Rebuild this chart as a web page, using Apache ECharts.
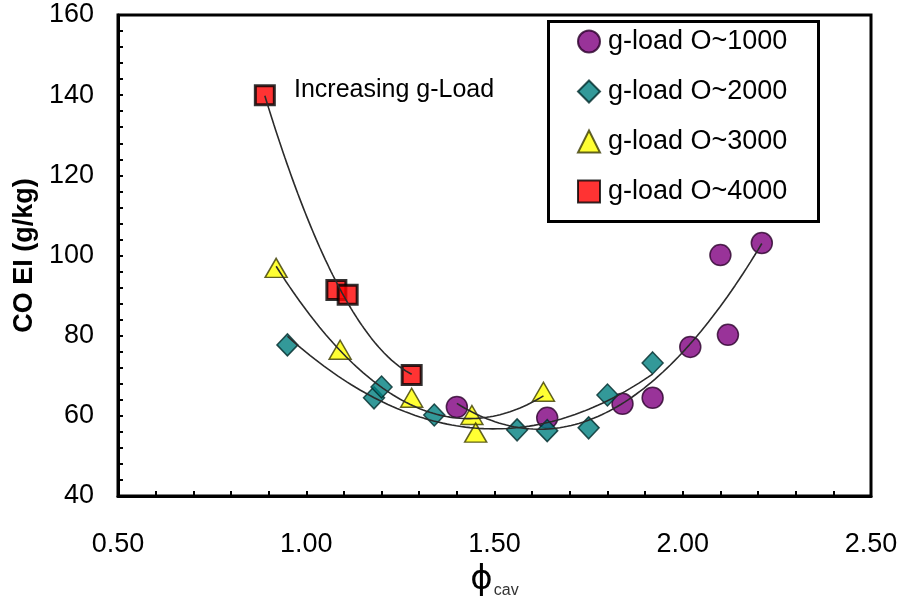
<!DOCTYPE html>
<html>
<head>
<meta charset="utf-8">
<script src="https://cdn.jsdelivr.net/npm/echarts@6/dist/echarts.min.js"></script>
<style>
  html, body { margin: 0; padding: 0; background: #ffffff; }
  #chart { width: 903px; height: 596px; }
</style>
</head>
<body>
<div id="chart"></div>
<script>
// Series labels
const seriesNames = ['g-load O~1000', 'g-load O~2000', 'g-load O~3000', 'g-load O~4000'];

// Equivalence ratio (phi_cav) and CO emission index (g/kg) per g-load group
const phi1000 = [1.40, 1.64, 1.84, 1.92, 2.02, 2.12, 2.10, 2.21];
const coEI1000 = [62.2, 59.5, 63.0, 64.5, 77.2, 80.2, 100.1, 103.1];

const phi2000 = [0.95, 1.18, 1.20, 1.34, 1.56, 1.64, 1.75, 1.80, 1.92];
const coEI2000 = [77.7, 64.5, 67.2, 60.2, 56.5, 56.3, 57.0, 65.2, 73.2];

const phi3000 = [0.92, 1.09, 1.28, 1.44, 1.45, 1.63];
const coEI3000 = [96.9, 76.5, 64.5, 60.2, 55.8, 66.0];

const phi4000 = [0.89, 1.08, 1.11, 1.28];
const coEI4000 = [140.0, 91.4, 90.2, 70.2];

// Axis tick values
const xTicks = [0.5, 1.0, 1.5, 2.0, 2.5];
const yTicks = [40, 60, 80, 100, 120, 140, 160];

const annotation = 'Increasing g-Load';

function pairs(xs, ys) {
  return xs.map((x, i) => [x, ys[i]]);
}

// Second-order polynomial least-squares trendline through a group's points
function quadTrend(xs, ys, steps) {
  let n = xs.length, sx = 0, sx2 = 0, sx3 = 0, sx4 = 0, sy = 0, sxy = 0, sx2y = 0;
  for (let i = 0; i < n; i++) {
    const x = xs[i], y = ys[i], x2 = x * x;
    sx += x; sx2 += x2; sx3 += x2 * x; sx4 += x2 * x2;
    sy += y; sxy += x * y; sx2y += x2 * y;
  }
  const M = [[n, sx, sx2], [sx, sx2, sx3], [sx2, sx3, sx4]];
  const B = [sy, sxy, sx2y];
  const det = m => m[0][0] * (m[1][1] * m[2][2] - m[1][2] * m[2][1])
                 - m[0][1] * (m[1][0] * m[2][2] - m[1][2] * m[2][0])
                 + m[0][2] * (m[1][0] * m[2][1] - m[1][1] * m[2][0]);
  const D = det(M);
  const coef = [0, 1, 2].map(c => {
    const m = M.map((row, r) => row.map((v, k) => (k === c ? B[r] : v)));
    return det(m) / D;
  });
  const lo = Math.min(...xs), hi = Math.max(...xs);
  const out = [];
  for (let i = 0; i <= steps; i++) {
    const x = lo + (hi - lo) * i / steps;
    out.push([x, coef[0] + coef[1] * x + coef[2] * x * x]);
  }
  return out;
}

const FONT = 'Liberation Sans';

const groups = [
  { name: seriesNames[0], xs: phi1000, ys: coEI1000, symbol: 'circle', size: 21,
    style: { color: '#800080', borderColor: '#2a002a', borderWidth: 1.5 } },
  { name: seriesNames[1], xs: phi2000, ys: coEI2000, symbol: 'diamond', size: [21, 22],
    style: { color: '#008080', borderColor: '#002a2a', borderWidth: 1.5 } },
  { name: seriesNames[2], xs: phi3000, ys: coEI3000, symbol: 'triangle', size: [22, 19],
    style: { color: '#ffff00', borderColor: '#3a3a00', borderWidth: 1.5 } },
  { name: seriesNames[3], xs: phi4000, ys: coEI4000, symbol: 'rect', size: 19,
    style: { color: '#ff0000', borderColor: '#000000', borderWidth: 3 } }
];

const series = [];
groups.forEach((g, i) => {
  series.push({
    name: g.name,
    type: 'scatter',
    data: pairs(g.xs, g.ys),
    symbol: g.symbol,
    symbolSize: g.size,
    itemStyle: g.style,
    z: 2 + i * 0.1,
    emphasis: { disabled: true }
  });
});
groups.forEach(g => {
  series.push({
    type: 'line',
    data: quadTrend(g.xs, g.ys, 80),
    showSymbol: false,
    smooth: false,
    silent: true,
    lineStyle: { color: '#2b2b2b', width: 1.6 },
    z: 5
  });
});

const chart = echarts.init(document.getElementById('chart'), null, { renderer: 'canvas' });

chart.setOption({
  backgroundColor: '#ffffff',
  animation: false,
  grid: {
    left: 118, right: 32, top: 15, bottom: 100,
    containLabel: false,
    outerBoundsMode: 'none',
    show: true, borderColor: '#000', borderWidth: 3, backgroundColor: 'transparent'
  },
  xAxis: {
    type: 'value',
    min: xTicks[0],
    max: xTicks[xTicks.length - 1],
    interval: 0.5,
    axisLine: { show: true, lineStyle: { color: '#000', width: 3 } },
    axisTick: { show: true, inside: true, length: 5, lineStyle: { color: '#000', width: 2 } },
    minorTick: { show: true, splitNumber: 5, length: 5, lineStyle: { color: '#000', width: 2 } },
    splitLine: { show: false },
    axisLabel: {
      color: '#000', fontFamily: FONT, fontSize: 27, margin: 35,
      formatter: v => v.toFixed(2)
    },
    name: '{p|ϕ}{s|cav}',
    nameLocation: 'middle',
    nameGap: 57,
    nameTextStyle: {
      rich: {
        p: { fontFamily: 'DejaVu Sans', fontSize: 34, color: '#000', lineHeight: 38 },
        s: { fontFamily: FONT, fontSize: 16, color: '#333', verticalAlign: 'bottom', lineHeight: 16, padding: [0, 0, 0, 1] }
      }
    }
  },
  yAxis: {
    type: 'value',
    min: yTicks[0],
    max: yTicks[yTicks.length - 1],
    interval: 20,
    axisLine: { show: true, lineStyle: { color: '#000', width: 3 } },
    axisTick: { show: true, inside: true, length: 5, lineStyle: { color: '#000', width: 2 } },
    minorTick: { show: true, splitNumber: 5, length: 5, lineStyle: { color: '#000', width: 2 } },
    splitLine: { show: false },
    axisLabel: { color: '#000', fontFamily: FONT, fontSize: 27, margin: 24 },
    name: 'CO EI (g/kg)',
    nameLocation: 'middle',
    nameGap: 76,
    nameTextStyle: { color: '#000', fontFamily: FONT, fontSize: 27, fontWeight: 'bold' }
  },
  legend: {
    data: seriesNames,
    orient: 'vertical',
    left: 577,
    top: 28,
    padding: 0,
    itemWidth: 22,
    itemHeight: 22,
    itemGap: 23,
    selectedMode: false,
    textStyle: { color: '#000', fontFamily: FONT, fontSize: 27, lineHeight: 22, padding: [4, 0, 0, 3] }
  },
  graphic: [
    {
      type: 'rect',
      left: 547, top: 20,
      shape: { width: 270, height: 200 },
      style: { fill: '#ffffff', stroke: '#000', lineWidth: 3 },
      z: 0
    },
    {
      type: 'text',
      left: 294, top: 78,
      style: { text: annotation, fill: '#000', font: '25px "Liberation Sans"' },
      z: 10
    }
  ],
  series: series
});
</script>
</body>
</html>
